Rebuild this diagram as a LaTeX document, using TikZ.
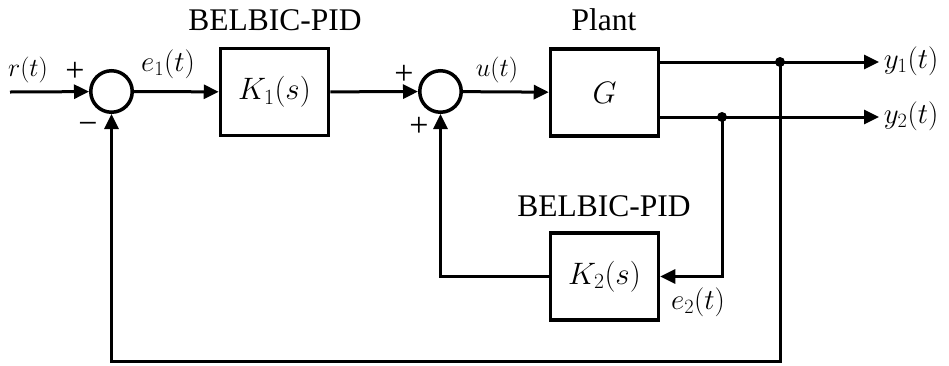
\RequirePackage{fix-cm}
\documentclass[tikz,border=0pt]{standalone}
\usepackage{fontspec}
\setmainfont{Liberation Serif}
\usetikzlibrary{arrows.meta,calc}
\begin{document}
\begin{tikzpicture}[x=1pt,y=-1pt,
  line width=3pt,
  blk/.style={draw,line width=3.5pt,minimum width=108pt,minimum height=87pt,inner sep=0pt,font=\fontsize{31}{36}\selectfont},
  sumc/.style={draw,circle,line width=3.5pt,minimum size=41.5pt,inner sep=0pt},
  dotn/.style={circle,fill,minimum size=10pt,inner sep=0pt},
  arr/.style={-{Triangle[length=15pt,width=14pt]}},
  ttl/.style={font=\fontsize{31.5}{36}\selectfont},
  sig/.style={font=\fontsize{26}{30}\selectfont},
  mlab/.style={font=\fontsize{29}{32}\selectfont},
  sgn/.style={font=\fontsize{34}{38}\selectfont,inner sep=0pt}]
\useasboundingbox (0,0) rectangle (949,365);

\coordinate (in) at (10,92);
\node[sumc] (sum1) at (111.5,91.5) {};
\node[blk] (K1) at (274.5,92) {$K_1(s)$};
\node[sumc] (sum2) at (440.5,91.5) {};
\node[blk] (G) at (604.5,92.5) {$G$};
\node[blk] (K2) at (604.5,276.5) {$K_2(s)$};
\node[dotn] (d1) at (780,62) {};
\node[dotn] (d2) at (722,117) {};
\coordinate (y1e) at (879,62);
\coordinate (y2e) at (879,117);
\coordinate (bot) at (780,361);

\node[ttl] (t1) at (275,20) {BELBIC-PID};
\node[ttl] (t2) at (604,20) {Plant};
\node[ttl] (t3) at (604,206) {BELBIC-PID};

\node[sig] (rl) at (28,70) {$r(t)$};
\node[sig] (ul) at (497,70) {$u(t)$};
\node[mlab] (e1l) at (168,64) {$e_1(t)$};
\node[mlab] (e2l) at (698,302) {$e_2(t)$};
\node[mlab,anchor=west] (y1l) at (879,61) {$y_1(t)$};
\node[mlab,anchor=west] (y2l) at (879,116) {$y_2(t)$};

\node[sgn] (p1) at (75,72) {+};
\node[sgn] (m1) at (88,128) {\symbol{"2212}};
\node[sgn] (p2) at (404,75) {+};
\node[sgn] (p3) at (419,127) {+};

\draw[arr] (in) -- (sum1);
\draw[arr] (sum1) -- (K1);
\draw[arr] (K1) -- (sum2);
\draw[arr] (sum2) -- (G);
\draw[arr] (G.east |- d1) -- (y1e);
\draw[arr] (G.east |- d2) -- (y2e);
\draw[arr] (d2.center) |- (K2.east);
\draw[arr] (K2.west) -| (sum2.south);
\draw[arr] (d1.center) -- (bot) -| (sum1.south);
\end{tikzpicture}
\end{document}
